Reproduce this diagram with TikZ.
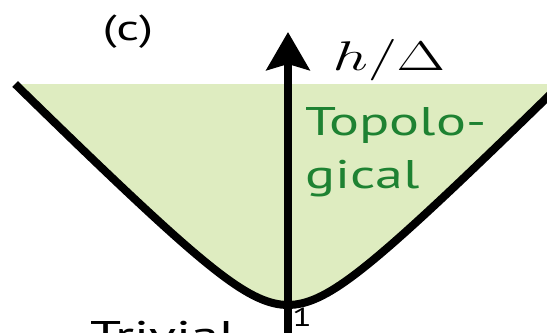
\documentclass[tikz,border=0pt]{standalone}
\usepackage{fontspec}
\usepackage{xcolor}
\usepackage{tikz}
\usetikzlibrary{arrows.meta,positioning}
\newfontfamily\labelfont{PT Sans}
\definecolor{topogreen}{RGB}{222,236,192}
\definecolor{textgreen}{RGB}{30,130,50}

\begin{document}
\begin{tikzpicture}[
  x=29pt,y=29pt,
  region/.style={fill=topogreen},
  boundary/.style={draw=black,line width=4pt},
  axis/.style={-{Stealth[length=19pt,width=21.5pt,inset=3pt]},line width=4pt,draw=black},
  wide/.style={xscale=1.4,inner sep=0pt},
  phase/.style={wide,font=\labelfont\fontsize{20}{26.5}\selectfont,align=left}
]
  \useasboundingbox (-4.966,0.534) rectangle (4.466,6.259);
  \clip (-4.966,0.534) rectangle (4.466,6.259);
  % topological region above the gap-closing line
  \fill[region] (-4.705,4.81) -- plot[domain=-4.705:4.705,samples=120] (\x,{sqrt(1+\x*\x)}) -- cycle;
  \draw[boundary] plot[domain=-4.705:4.705,samples=120] (\x,{sqrt(1+\x*\x)});
  \coordinate (base) at (0,0.3);
  \coordinate (tip) at (0,5.707);
  \draw[axis] (base) -- (tip);
  \node[wide,font=\labelfont\fontsize{18}{21}\selectfont] (panel) at (-2.76,5.72) {(c)};
  \node[wide,xscale=1.08,font=\fontsize{20}{24}\selectfont,anchor=base west] (hlabel) at (0.76,5.05) {$h/\Delta$};
  \node[phase,text=textgreen,anchor=north west] (topo) at (0.293,4.42) {Topolo-\\gical};
  \node[phase,anchor=base west] (trivial) at (-3.414,0.224) {Trivial};
  \node[wide,font=\labelfont\fontsize{13}{15}\selectfont] (one) at (0.241,0.79) {1};
\end{tikzpicture}
\end{document}
